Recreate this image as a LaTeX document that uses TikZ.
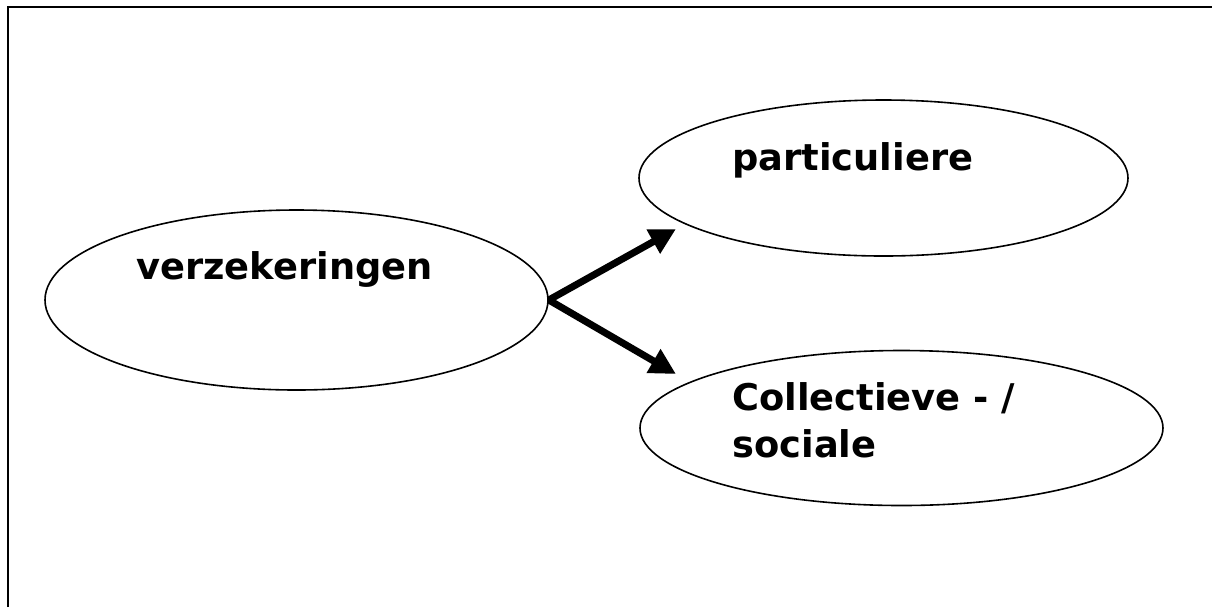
\documentclass[tikz,border=0pt]{standalone}
\usepackage{fontspec}
\setmainfont{DejaVu Sans}
\usetikzlibrary{shapes.geometric,arrows.meta}

\begin{document}
\begin{tikzpicture}[
        x=0.5pt,y=-0.5pt,
        every node/.style={font=\fontsize{18.4}{23.5}\selectfont\bfseries},
        oval/.style={ellipse,draw=black,line width=0.8pt,inner sep=0pt},
        lbl/.style={anchor=base west,inner sep=0pt,align=left},
        arr/.style={-{Triangle[length=13pt,width=13pt]},line width=3.5pt}
      ]
        \useasboundingbox (0,0) rectangle (1212,607);
        % frame (cut off at right and bottom)
        \draw[line width=1.4pt] (8,607) -- (8,7) -- (1212,7);

        \node[oval,minimum width=251.5pt,minimum height=90pt] (verz) at (296.5,300) {};
        \node[oval,minimum width=244.5pt,minimum height=78pt] (part) at (883.5,178) {};
        \node[oval,minimum width=261.5pt,minimum height=77.5pt] (coll) at (901.5,428) {};

        \node[lbl] (verzt) at (136,279) {verzekeringen};
        \node[lbl] (partt) at (732,170) {particuliere};
        \node[lbl] (collt) at (732,457) {Collectieve - /\\sociale};

        \coordinate (tipA) at (676,229);
        \coordinate (tipB) at (676,374);
        \draw[arr] (verz.east) -- (tipA);
        \draw[arr] (verz.east) -- (tipB);
      \end{tikzpicture}
\end{document}
